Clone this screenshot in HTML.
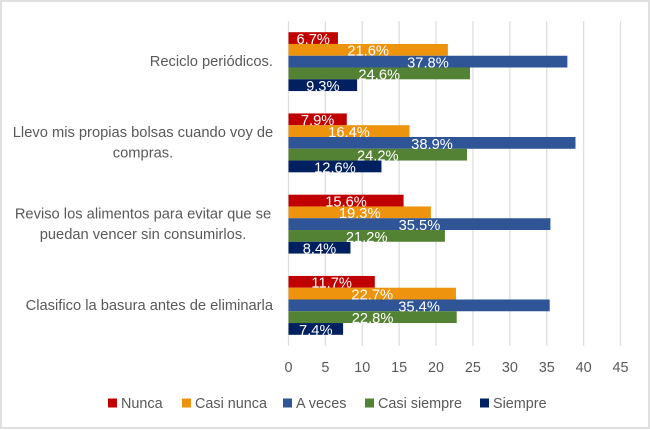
<!DOCTYPE html>
<html lang="es">
<head>
<meta charset="utf-8">
<title>Gráfico de barras</title>
<style>
html,body{margin:0;padding:0;background:#fff;}
svg{display:block;font-family:"Liberation Sans",sans-serif;}
</style>
</head>
<body>
<svg id="chart" width="650" height="430" viewBox="0 0 650 430" xmlns="http://www.w3.org/2000/svg">
<rect x="1" y="1" width="648" height="427" fill="#ffffff" stroke="#e0e0e0" stroke-width="2"/>
</svg>
<script>
var categories = [
  ["Reciclo periódicos."],
  ["Llevo mis propias bolsas cuando voy de", "compras."],
  ["Reviso los alimentos para evitar que se", "puedan vencer sin consumirlos."],
  ["Clasifico la basura antes de eliminarla"]
];
var seriesNames = ["Nunca", "Casi nunca", "A veces", "Casi siempre", "Siempre"];
var seriesColors = ["#c00000", "#ed930e", "#2f5597", "#548235", "#002060"];
var nunca = [6.7, 7.9, 15.6, 11.7];
var casiNunca = [21.6, 16.4, 19.3, 22.7];
var aVeces = [37.8, 38.9, 35.5, 35.4];
var casiSiempre = [24.6, 24.2, 21.2, 22.8];
var siempre = [9.3, 12.6, 8.4, 7.4];
var xTicks = [0, 5, 10, 15, 20, 25, 30, 35, 40, 45];

var seriesValues = [nunca, casiNunca, aVeces, casiSiempre, siempre];
var svg = document.getElementById('chart');
var NS = 'http://www.w3.org/2000/svg';
var plotLeft = 288.5, plotRight = 620.5, plotTop = 21, plotBottom = 346;
var xMax = 45;
function xScale(v) { return plotLeft + (v / xMax) * (plotRight - plotLeft); }
var groupH = (plotBottom - plotTop) / categories.length;
var barH = groupH / (seriesValues.length + 1.9);
function groupTop(i) { return plotTop + i * groupH + (groupH - barH * seriesValues.length) / 2; }
function make(tag, attrs, text) {
  var el = document.createElementNS(NS, tag);
  for (var k in attrs) { el.setAttribute(k, attrs[k]); }
  if (text !== undefined) { el.textContent = text; }
  svg.appendChild(el);
  return el;
}
function slug(s) {
  return s.toLowerCase().replace(/\s+/g, '-');
}

xTicks.forEach(function (t) {
  var g = make('line', {x1: xScale(t), x2: xScale(t), y1: plotTop, y2: plotBottom, stroke: '#dedede', 'stroke-width': 1.3});
  
  
  var l = make('text', {x: xScale(t), y: 372, 'text-anchor': 'middle', 'font-size': 14.4, fill: '#595959'}, String(t));
  
  
});

categories.forEach(function (lines, c) {
  var mid = plotTop + (c + 0.5) * groupH;
  lines.forEach(function (line, j) {
    var y = mid + 4.5 + (j - (lines.length - 1) / 2) * 20.5;
    var t = make('text', {'font-size': 14.7, fill: '#595959', 'text-anchor': 'middle', x: 143, y: y}, line);
    if (lines.length === 1) {
      t.setAttribute('text-anchor', 'end');
      t.setAttribute('x', 273);
    }
    
    
  });
  seriesValues.forEach(function (vals, s) {
    var y = groupTop(c) + s * barH;
    var r = make('rect', {x: xScale(0), y: y, width: xScale(vals[c]) - xScale(0), height: barH, fill: seriesColors[s]});
    
    
  });
});

categories.forEach(function (lines, c) {
  seriesValues.forEach(function (vals, s) {
    var y = groupTop(c) + s * barH;
    var cx = (xScale(0) + xScale(vals[c])) / 2;
    var t = make('text', {x: cx, y: y + barH, 'text-anchor': 'middle', 'font-size': 14.7, fill: '#ffffff'}, vals[c].toFixed(1) + '%');
    
    
  });
});

var legendSwatchX = [108, 182, 283, 365, 480];
seriesNames.forEach(function (name, s) {
  var sw = make('rect', {x: legendSwatchX[s], y: 398.5, width: 9, height: 9, fill: seriesColors[s]});
  
  
  var t = make('text', {x: legendSwatchX[s] + 13, y: 408, 'font-size': 14.4, fill: '#595959'}, name);
  
  
});
</script>
</body>
</html>
